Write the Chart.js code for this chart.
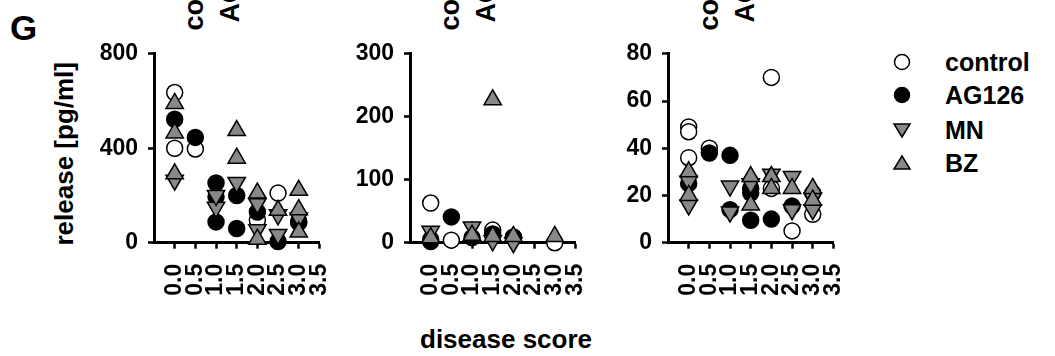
<!DOCTYPE html>
<html><head><meta charset="utf-8">
<script src="https://cdn.jsdelivr.net/npm/chart.js@4/dist/chart.umd.min.js"></script>
<style>
html,body{margin:0;padding:0;background:#fff;}
body{width:1055px;height:356px;position:relative;overflow:hidden;font-family:"Liberation Sans",Arial,sans-serif;font-weight:bold;color:#000;}
canvas{position:absolute;}
.t{position:absolute;white-space:nowrap;line-height:1;}
.vt{position:absolute;writing-mode:vertical-rl;transform:rotate(180deg);white-space:nowrap;line-height:1;}
.leg{position:absolute;left:890px;}
.leg svg{position:absolute;left:0;top:0;}
.leg span{position:absolute;left:55px;top:0;font-size:25px;line-height:24px;}
</style></head>
<body>
<div class="t" style="left:10px;top:10px;font-size:35px;line-height:35px;">G</div>
<div class="vt" style="left:181px;bottom:326px;font-size:27px;">control</div>
<div class="vt" style="left:217px;bottom:333px;font-size:27px;">AG126</div>
<div class="vt" style="left:437px;bottom:326px;font-size:27px;">control</div>
<div class="vt" style="left:473px;bottom:333px;font-size:27px;">AG126</div>
<div class="vt" style="left:696px;bottom:326px;font-size:27px;">control</div>
<div class="vt" style="left:732px;bottom:333px;font-size:27px;">AG126</div>
<div class="vt" style="left:51px;top:62px;font-size:26px;">release [pg/ml]</div>
<div class="t" style="left:420px;top:326px;font-size:26px;">disease score</div>

<div class="leg" style="top:50px;"><svg width="24" height="24"><circle cx="12" cy="12" r="7.5" fill="#fff" stroke="#000" stroke-width="1.5"/></svg><span id="l0"></span></div>
<div class="leg" style="top:83px;"><svg width="24" height="24"><circle cx="12" cy="12" r="7.5" fill="#000" stroke="#000" stroke-width="1.5"/></svg><span id="l1"></span></div>
<div class="leg" style="top:118px;"><svg width="24" height="24"><polygon points="4,6 20,6 12,19" fill="#888" stroke="#000" stroke-width="1.5"/></svg><span id="l2"></span></div>
<div class="leg" style="top:151px;"><svg width="24" height="24"><polygon points="4,18 20,18 12,5" fill="#888" stroke="#000" stroke-width="1.5"/></svg><span id="l3"></span></div>

<canvas id="c1" width="292" height="300" style="left:70px;top:30px;"></canvas>
<canvas id="c2" width="292" height="300" style="left:326px;top:30px;"></canvas>
<canvas id="c3" width="292" height="300" style="left:584px;top:30px;"></canvas>

<script>
// ---- data ----
const xCategories = [0.0, 0.5, 1.0, 1.5, 2.0, 2.5, 3.0, 3.5];
const seriesNames = ['control', 'AG126', 'MN', 'BZ'];

const panel1Ticks = [0, 400, 800];
const panel1Control = [[0,636],[0,400],[0.5,397],[2,95],[2.5,210],[3,90]];
const panel1AG126 = [[0,523],[0.5,446],[1,253],[1,195],[1,88],[1.5,200],[1.5,60],[2,130],[2.5,5],[3,85]];
const panel1MN = [[0,265],[1,150],[1,200],[1.5,255],[2,165],[2,55],[2.5,118],[2.5,35],[3,105]];
const panel1BZ = [[0,590],[0,465],[0,292],[1.5,475],[1.5,358],[2,210],[2,15],[2.5,137],[3,222],[3,140],[3,45]];

const panel2Ticks = [0, 100, 200, 300];
const panel2Control = [[0,63],[0,5],[0.5,4],[1.5,20],[2,8],[3,0]];
const panel2AG126 = [[0,2],[0.5,41],[1,8],[1.5,14],[2,9]];
const panel2MN = [[0,18],[1,25],[1.5,3],[2,0]];
const panel2BZ = [[0,8],[1,12],[1.5,227],[1.5,10],[2,10],[3,10]];

const panel3Ticks = [0, 20, 40, 60, 80];
const panel3Control = [[0,49],[0,47],[0,36],[0.5,40],[2,70],[2,23],[2.5,5],[3,21],[3,12]];
const panel3AG126 = [[0,25],[0.5,38],[1,37],[1,14],[1.5,23],[1.5,21],[1.5,9.5],[2,10],[2.5,15.5]];
const panel3MN = [[0,26],[0,16],[1,24],[1,13],[1.5,25],[2,29],[2.5,28],[2.5,14],[3,19],[3,14]];
const panel3BZ = [[0,30],[0,20],[1.5,28],[1.5,16],[2,28],[2,23],[2.5,23],[3,23],[3,18]];

// ---- styles ----
const FONT = '"Liberation Sans", Arial, sans-serif';
const GREY = '#888888';
const seriesStyles = [
  {pointStyle:'circle', radius:8, bg:'#ffffff', rotation:0},
  {pointStyle:'circle', radius:8, bg:'#000000', rotation:0},
  {pointStyle:'triangle', radius:10, bg:GREY, rotation:180},
  {pointStyle:'triangle', radius:10, bg:GREY, rotation:0}
];
seriesNames.forEach((n,i)=>{ document.getElementById('l'+i).textContent = n; });

function toPoints(arr){ return arr.map(p => ({x:p[0], y:p[1]})); }

function makePanel(id, seriesData, yTicks){
  const datasets = seriesData.map((d,i)=>{
    const s = seriesStyles[i];
    return {
      label: seriesNames[i],
      data: toPoints(d),
      pointStyle: s.pointStyle,
      pointRadius: s.radius,
      pointRotation: s.rotation,
      pointBackgroundColor: s.bg,
      pointBorderColor: '#000',
      pointBorderWidth: 1.5,
      showLine: false,
      clip: false,
      order: 3 - i
    };
  });
  const axisCommon = {
    grid:{display:true, drawOnChartArea:false, drawTicks:true, tickLength:6, tickColor:'#000', tickWidth:2.5},
    border:{display:true, color:'#000', width:3}
  };
  new Chart(document.getElementById(id), {
    type:'scatter',
    data:{datasets},
    options:{
      responsive:false, animation:false, events:[],
      layout:{padding:{top:22.7, right:16, left:0, bottom:0}},
      plugins:{legend:{display:false}, tooltip:{enabled:false}},
      scales:{
        x:Object.assign({}, axisCommon, {
          type:'linear', min:-0.5, max:3.5,
          afterBuildTicks:(s)=>{ s.ticks = xCategories.map(v=>({value:v})); },
          afterFit:(s)=>{ s.height = 87.3; },
          ticks:{minRotation:90, maxRotation:90, autoSkip:false, padding:15, color:'#000',
                 font:{family:FONT, size:23, weight:'bold'},
                 callback:(v)=>Number(v).toFixed(1)}
        }),
        y:Object.assign({}, axisCommon, {
          type:'linear', min:yTicks[0], max:yTicks[yTicks.length-1],
          afterBuildTicks:(s)=>{ s.ticks = yTicks.map(v=>({value:v})); },
          afterFit:(s)=>{ s.width = 84; },
          ticks:{padding:10, color:'#000', font:{family:FONT, size:23, weight:'bold'}}
        })
      }
    }
  });
}

makePanel('c1', [panel1Control, panel1AG126, panel1MN, panel1BZ], panel1Ticks);
makePanel('c2', [panel2Control, panel2AG126, panel2MN, panel2BZ], panel2Ticks);
makePanel('c3', [panel3Control, panel3AG126, panel3MN, panel3BZ], panel3Ticks);
</script>
</body></html>
